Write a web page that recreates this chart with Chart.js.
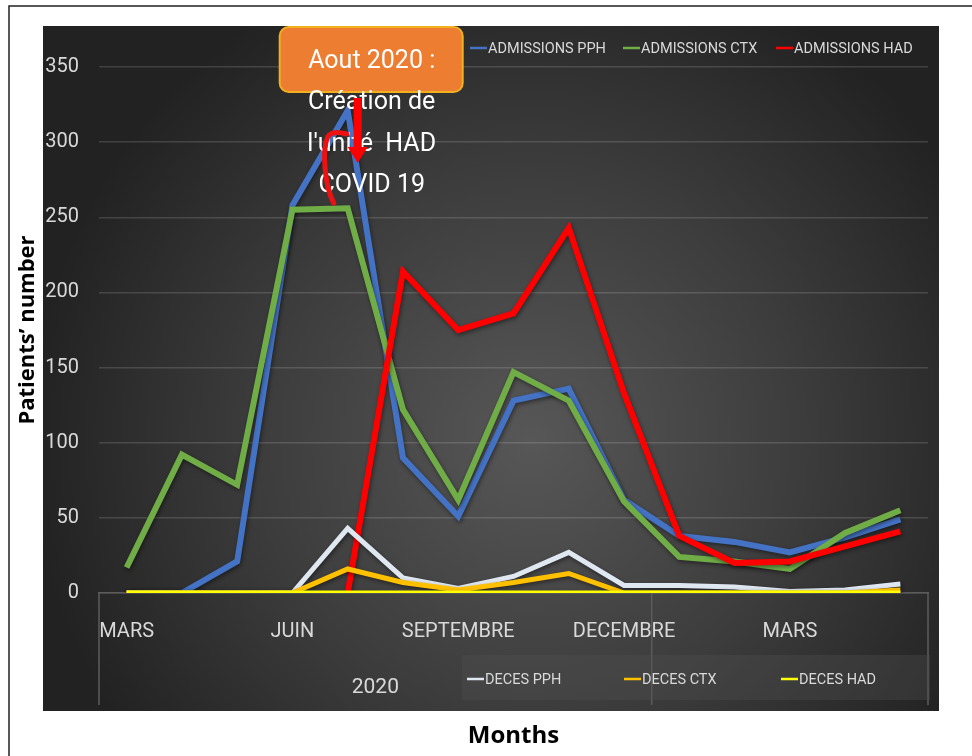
<!DOCTYPE html>
<html>
<head>
<meta charset="utf-8">
<script src="https://cdn.jsdelivr.net/npm/chart.js@4.4.1/dist/chart.umd.min.js"></script>
<style>
  html, body { margin: 0; padding: 0; background: #fff; }
  canvas { display: block; }
</style>
</head>
<body>
<canvas id="chart" width="972" height="756"></canvas>
<script>
// months from March 2020 to May 2021
const months = ['MARS', 'AVRIL', 'MAI', 'JUIN', 'JUILLET', 'AOUT', 'SEPTEMBRE', 'OCTOBRE',
    'NOVEMBRE', 'DECEMBRE', 'JANVIER', 'FEVRIER', 'MARS', 'AVRIL', 'MAI'];
const yearLabels = ['2020'];
const yearCounts = [10];

const admissionsPPH = [0, 0, 21, 258, 321, 90, 51, 128, 136, 62, 38, 34, 27, 37, 49];
const admissionsCTX = [17, 92, 72, 255, 256, 122, 62, 147, 128, 61, 24, 21, 16, 40, 55];
const admissionsHAD = [null, null, null, null, 0, 214, 175, 186, 243, 133, 38, 20, 21, 31, 41];
const decesPPH = [0, 0, 0, 0, 43, 10, 3, 11, 27, 5, 5, 4, 1, 2, 6];
const decesCTX = [0, 0, 0, 0, 16, 7, 2, 7, 13, 0, 0, 0, 0, 0, 2];
const decesHAD = [0, 0, 0, 0, 0, 0, 0, 0, 0, 0, 0, 0, 0, 0, 0];

const noteLines = ['Aout 2020 :', 'Création de', "l'unité  HAD", 'COVID 19'];

const FONT = "Roboto, 'DejaVu Sans Condensed', sans-serif";
const BOLD = "'Open Sans', 'DejaVu Sans', sans-serif";
const TXT = '#d9d9d9';

const panel = {
    id: 'panel',
    beforeDraw(chart) {
        const ctx = chart.ctx;
        ctx.save();
        ctx.fillStyle = '#fff';
        ctx.fillRect(0, 0, chart.width, chart.height);
        // outer frame
        ctx.strokeStyle = '#222';
        ctx.lineWidth = 1.5;
        ctx.beginPath();
        ctx.moveTo(9, chart.height);
        ctx.lineTo(9, 6);
        ctx.lineTo(chart.width, 6);
        ctx.stroke();
        // dark plot panel
        const g = ctx.createRadialGradient(530, 440, 0, 530, 440, 500);
        g.addColorStop(0, '#575757');
        g.addColorStop(0.55, '#3c3c3c');
        g.addColorStop(1, '#222');
        ctx.fillStyle = g;
        ctx.fillRect(43, 26, 896, 685);
        ctx.restore();
    },
    beforeDatasetDraw(chart) {
        const ctx = chart.ctx;
        ctx.save();
        ctx.shadowColor = 'rgba(0,0,0,0.45)';
        ctx.shadowBlur = 4;
        ctx.shadowOffsetX = 1;
        ctx.shadowOffsetY = 2;
    },
    afterDatasetDraw(chart) {
        chart.ctx.restore();
    },
    afterDraw(chart) {
        const ctx = chart.ctx;
        const x = chart.scales.x;
        const area = chart.chartArea;
        const step = (area.right - area.left) / months.length;
        ctx.save();

        // group separators under the category axis
        ctx.strokeStyle = '#5c5c5c';
        ctx.lineWidth = 1.5;
        let edges = [area.left];
        let acc = 0;
        yearCounts.forEach(c => { acc += c; edges.push(area.left + acc * step); });
        edges.push(area.right);
        edges.forEach(px => {
            ctx.beginPath();
            ctx.moveTo(px, area.bottom);
            ctx.lineTo(px, 705);
            ctx.stroke();
        });
        ctx.fillStyle = TXT;
        ctx.font = '21px ' + FONT;
        ctx.textAlign = 'center';
        ctx.textBaseline = 'middle';
        yearLabels.forEach((lab, i) => {
            ctx.fillText(lab, (edges[i] + edges[i + 1]) / 2, 688);
        });

        // legends
        const ds = chart.data.datasets;
        const drawLegend = (items, x0, y, w) => {
            ctx.font = '14.5px ' + FONT;
            ctx.textAlign = 'left';
            ctx.textBaseline = 'middle';
            items.forEach((d, i) => {
                const lx = x0 + i * w;
                ctx.strokeStyle = d.borderColor;
                ctx.lineWidth = 2.5;
                ctx.beginPath();
                ctx.moveTo(lx, y);
                ctx.lineTo(lx + 17, y);
                ctx.stroke();
                ctx.fillStyle = TXT;
                ctx.fillText(d.label, lx + 18, y + 1);
            });
        };
        ctx.fillStyle = 'rgba(80,80,80,0.35)';
        ctx.fillRect(462, 655, 468, 45);
        drawLegend(ds.slice(0, 3), 470, 48, 153);
        drawLegend(ds.slice(3, 6), 467, 679, 157);

        // annotation
        const ax = x.getPixelForValue(4) + 24;
        ctx.fillStyle = '#ed7d31';
        ctx.strokeStyle = '#f2b01e';
        ctx.lineWidth = 2;
        ctx.beginPath();
        ctx.roundRect(ax - 92, 27, 183, 65, 9);
        ctx.fill();
        ctx.stroke();

        ctx.fillStyle = '#fff';
        ctx.font = '25px ' + FONT;
        ctx.textAlign = 'center';
        ctx.textBaseline = 'middle';
        const ly = [62, 103, 145, 186];
        noteLines.forEach((t, i) => ctx.fillText(t, ax, ly[i]));

        // red arrows
        const rx = x.getPixelForValue(4) + 10;
        ctx.fillStyle = '#ff0000';
        ctx.fillRect(rx - 4, 98, 8, 50);
        ctx.beginPath();
        ctx.moveTo(rx - 10, 147);
        ctx.lineTo(rx + 10, 147);
        ctx.lineTo(rx, 163);
        ctx.closePath();
        ctx.fill();
        ctx.strokeStyle = '#ee1111';
        ctx.lineWidth = 5;
        ctx.lineCap = 'round';
        ctx.beginPath();
        ctx.moveTo(rx - 24, 203);
        ctx.bezierCurveTo(rx - 33, 186, rx - 36, 150, rx - 30, 137);
        ctx.quadraticCurveTo(rx - 26, 130, rx - 11, 134);
        ctx.stroke();
        ctx.restore();
    }
};

const mk = (label, data, color, width, order) => ({
    label, data, borderColor: color, backgroundColor: color,
    borderWidth: width, pointRadius: 0, tension: 0, order, spanGaps: false,
});

new Chart(document.getElementById('chart'), {
    type: 'line',
    data: {
        labels: months,
        datasets: [
            mk('ADMISSIONS PPH', admissionsPPH, '#4472c4', 6, 5),
            mk('ADMISSIONS CTX', admissionsCTX, '#70ad47', 6, 4),
            mk('ADMISSIONS HAD', admissionsHAD, '#ff0000', 6, 3),
            mk('DECES PPH', decesPPH, '#dfe7f1', 5, 2),
            mk('DECES CTX', decesCTX, '#ffc000', 5, 1),
            mk('DECES HAD', decesHAD, '#ffff00', 5, 0),
        ],
    },
    options: {
        responsive: false,
        animation: false,
        layout: { padding: { top: 67, right: 44, left: 0, bottom: 0 } },
        plugins: {
            legend: { display: false },
            tooltip: { enabled: false },
        },
        scales: {
            x: {
                offset: true,
                afterFit: s => { s.height = 163; },
                grid: { display: false, drawTicks: false },
                border: { color: '#5c5c5c', width: 1.5 },
                ticks: {
                    autoSkip: false,
                    maxRotation: 0,
                    padding: 27,
                    color: TXT,
                    font: { family: FONT, size: 20 },
                    callback(v, i) { return i % 3 === 0 ? months[i] : ''; },
                },
                title: {
                    display: true,
                    text: 'Months',
                    color: '#000',
                    font: { family: BOLD, size: 24, weight: 'bold' },
                    padding: { top: 0, bottom: 5 },
                },
            },
            y: {
                min: 0,
                max: 350,
                afterFit: s => { s.width = 99; },
                grid: { color: 'rgba(255,255,255,0.14)', lineWidth: 1.5, drawTicks: false },
                border: { display: false },
                ticks: {
                    stepSize: 50,
                    padding: 20,
                    color: TXT,
                    font: { family: FONT, size: 20 },
                },
                title: {
                    display: true,
                    text: 'Patients’ number',
                    color: '#000',
                    font: { family: BOLD, size: 22, weight: 'bold' },
                    padding: { top: 15, bottom: 0 },
                },
            },
        },
    },
    plugins: [panel],
});
</script>
</body>
</html>
